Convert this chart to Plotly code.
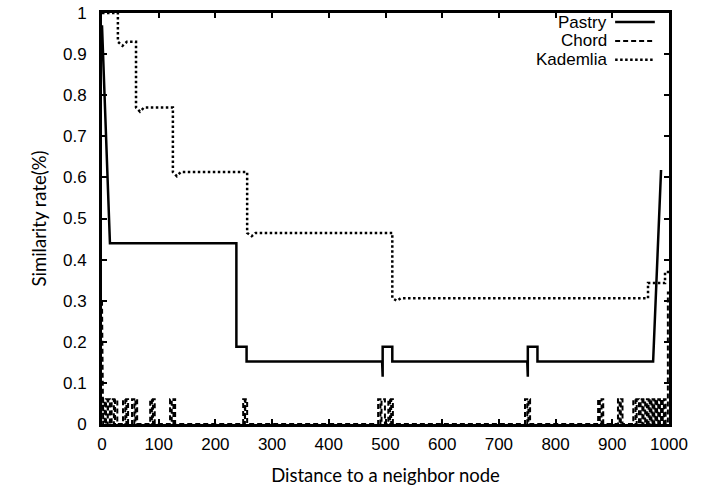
import plotly.graph_objects as go

# ---- data ----
pastry_x = [0, 14, 237, 237, 255, 255, 494, 495, 495, 512, 512, 750, 751, 751, 768, 768, 972, 986]
pastry_y = [0.97, 0.44, 0.44, 0.188, 0.188, 0.152, 0.152, 0.115, 0.188, 0.188, 0.152, 0.152, 0.115, 0.188, 0.188, 0.152, 0.152, 0.618]

kad_x = [0, 28, 28, 36, 44, 60, 60, 67, 74, 125, 125, 132, 139, 256, 256, 264, 271, 512, 512, 520, 527, 963, 963, 993, 993, 1000]
kad_y = [1.0, 1.0, 0.93, 0.92, 0.93, 0.93, 0.77, 0.76, 0.77, 0.77, 0.613, 0.603, 0.613, 0.613, 0.465, 0.457, 0.465, 0.465, 0.306, 0.300, 0.306, 0.306, 0.343, 0.343, 0.37, 0.37]

chord_start = [0, 1]
chord_start_y = [0.3, 0.0]
chord_spikes = [(2, 5), (7, 10), (11, 14), (17, 21), (23, 27), (37, 41), (43, 46), (53, 57), (59, 62),
                (85, 88), (90, 93), (120, 123), (126, 129), (249, 252), (253, 256), (487, 491), (493, 499),
                (505, 508), (510, 513), (746, 750), (752, 755), (875, 878), (881, 884), (910, 913), (915, 918),
                (937, 941), (943, 947), (950, 953), (955, 958), (961, 964), (966, 969), (971, 974), (976, 979),
                (981, 984), (986, 989), (991, 994)]
chord_spike_h = 0.06
chord_end_x = [998, 998, 1000]
chord_end_y = [0.0, 0.32, 0.32]

series_names = ["Pastry", "Chord", "Kademlia"]
x_ticks = [0, 100, 200, 300, 400, 500, 600, 700, 800, 900, 1000]
y_ticks = [0, 0.1, 0.2, 0.3, 0.4, 0.5, 0.6, 0.7, 0.8, 0.9, 1]
y_tick_text = ["0", "0.1", "0.2", "0.3", "0.4", "0.5", "0.6", "0.7", "0.8", "0.9", "1"]

# build chord polyline from read spikes
chord_x = list(chord_start)
chord_y = list(chord_start_y)
for a, b in chord_spikes:
    chord_x += [a, a, b, b]
    chord_y += [0.0, chord_spike_h, chord_spike_h, 0.0]
chord_x += chord_end_x
chord_y += chord_end_y

fig = go.Figure()
fig.add_trace(go.Scatter(x=pastry_x, y=pastry_y, mode="lines", name=series_names[0],
                         line=dict(color="black", width=2.5), showlegend=False))
fig.add_trace(go.Scatter(x=chord_x, y=chord_y, mode="lines", name=series_names[1],
                         line=dict(color="black", width=2, dash="5px,3px"), showlegend=False))
fig.add_trace(go.Scatter(x=kad_x, y=kad_y, mode="lines", name=series_names[2],
                         line=dict(color="black", width=2.5, dash="2.5px,2.5px"), showlegend=False))

tickfont = dict(family="Liberation Sans, Arial", size=17, color="black")
titlefont = dict(family="Lato, Carlito, Calibri", size=18.5, color="black")

fig.update_layout(
    width=709, height=489,
    margin=dict(l=102, r=40, t=13, b=65, autoexpand=False),
    paper_bgcolor="white", plot_bgcolor="white",
    xaxis=dict(range=[0, 1000], tickvals=x_ticks, ticks="inside", ticklen=5, tickwidth=1.5,
               tickcolor="black", showline=True, linewidth=3, linecolor="black", mirror="ticks",
               showgrid=False, zeroline=False, tickfont=tickfont, ticklabelstandoff=3,
               automargin=False,
               title=dict(text="Distance to a neighbor node", font=titlefont, standoff=16)),
    yaxis=dict(range=[0, 1], tickvals=y_ticks, ticktext=y_tick_text, ticks="inside", ticklen=5,
               tickwidth=1.5, tickcolor="black", showline=True, linewidth=3, linecolor="black",
               mirror="ticks", showgrid=False, zeroline=False, tickfont=tickfont, ticklabelstandoff=9,
               automargin=False,
               title=dict(text="Similarity rate(%)", font=titlefont, standoff=12)),
)

# legend drawn gnuplot-style: text right-aligned, sample to the right
leg_rows = [0.978, 0.932, 0.886]
leg_dash = ["solid", "5px,3px", "2.5px,2.5px"]
leg_width = [2.5, 2, 2.5]
for name, yy, dsh, w in zip(series_names, leg_rows, leg_dash, leg_width):
    fig.add_annotation(x=0.894, y=yy, xref="paper", yref="paper", text=name, showarrow=False,
                       xanchor="right", yanchor="middle", font=tickfont)
    fig.add_shape(type="line", xref="paper", yref="paper", x0=0.905, x1=0.975, y0=yy, y1=yy,
                  line=dict(color="black", width=w, dash=dsh))

fig.write_html("out.html")
